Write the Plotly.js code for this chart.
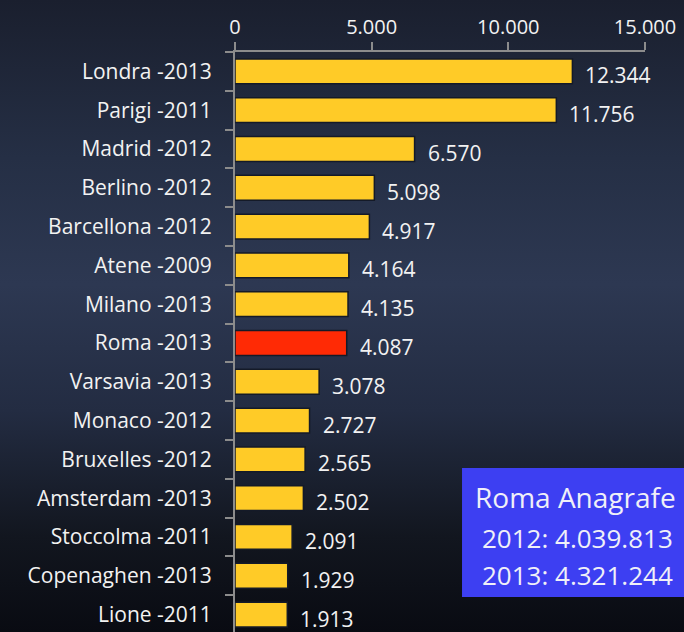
<!DOCTYPE html>
<html>
<head>
<meta charset="utf-8">
<script src="https://cdn.plot.ly/plotly-3.0.1.min.js"></script>
<style>
html,body{margin:0;padding:0;}
body{width:684px;height:632px;overflow:hidden;
background:linear-gradient(to bottom,#1a1f2e 0%,#252f45 25%,#2d3852 45%,#232c42 65%,#12161f 85%,#090b12 100%);}
#chart{width:684px;height:632px;}
</style>
</head>
<body>
<div id="chart"></div>
<script>
const cities = ["Londra -2013","Parigi -2011","Madrid -2012","Berlino -2012","Barcellona -2012","Atene -2009","Milano -2013","Roma -2013","Varsavia -2013","Monaco -2012","Bruxelles -2012","Amsterdam -2013","Stoccolma -2011","Copenaghen -2013","Lione -2011"];
const values = [12344,11756,6570,5098,4917,4164,4135,4087,3078,2727,2565,2502,2091,1929,1913];
const highlight = "Roma -2013";
const tickVals = [0,5000,10000,15000];
const tickText = ["0","5.000","10.000","15.000"];
const boxLines = ["Roma Anagrafe","2012: 4.039.813","2013: 4.321.244"];

function fmt(v){return v.toString().replace(/\B(?=(\d{3})+(?!\d))/g,".");}

const FONT = "'Open Sans', sans-serif";

const trace = {
  type:"bar", orientation:"h",
  x: values, y: cities,
  marker:{color: cities.map(c => c===highlight ? "#ff2a05" : "#ffcb27"),
          line:{color:"#141a28", width:1.5}},
  width:0.64,
  hoverinfo:"none"
};

const annotations = values.map((v,i)=>({
  x:v, y:cities[i], xref:"x", yref:"y",
  text:fmt(v), showarrow:false, xanchor:"left", xshift:11, yshift:-4,
  font:{family:FONT, size:21, color:"#f2f2f2"}
}));

// legend box text lines (paper coords; plot area spans px 235..645 x, 52..632 y)
const boxY = [0.2325, 0.1620, 0.0990];
const boxX = [0.5805, 0.5976, 0.5976];
boxLines.forEach((t,i)=>annotations.push({
  xref:"paper", yref:"paper", x:boxX[i], y:boxY[i], xanchor:"left", yanchor:"middle",
  text:t, showarrow:false,
  font:{family:FONT, size:i===0?28:26, color:"#f0f0f8"}
}));

const layout = {
  width:684, height:632,
  margin:{l:235, r:39, t:52, b:0},
  paper_bgcolor:"rgba(0,0,0,0)", plot_bgcolor:"rgba(0,0,0,0)",
  showlegend:false,
  xaxis:{side:"top", range:[0,15000], tickvals:tickVals, ticktext:tickText,
         showgrid:false, zeroline:false, showline:true, linecolor:"#8c8c8c", linewidth:2,
         ticks:"outside", ticklen:8, tickcolor:"#8c8c8c", tickwidth:2,
         tickfont:{family:FONT, size:20, color:"#f2f2f2"}, fixedrange:true},
  yaxis:{type:"category", autorange:false, range:[14.45,-0.5],
         showgrid:false, zeroline:false, showline:true, linecolor:"#8c8c8c", linewidth:2,
         ticks:"outside", ticklen:8, tickcolor:"#8c8c8c", tickwidth:2, tickson:"boundaries",
         ticklabelstandoff:17,
         tickfont:{family:FONT, size:21, color:"#f2f2f2"}, fixedrange:true},
  shapes:[{type:"rect", xref:"paper", yref:"paper", x0:0.5537, x1:1.2, y0:0.0603, y1:0.2828,
           fillcolor:"#3d3ff2", line:{width:0}, layer:"above"}],
  annotations: annotations
};

Plotly.newPlot("chart",[trace],layout,{staticPlot:true, displayModeBar:false});
</script>
</body>
</html>
